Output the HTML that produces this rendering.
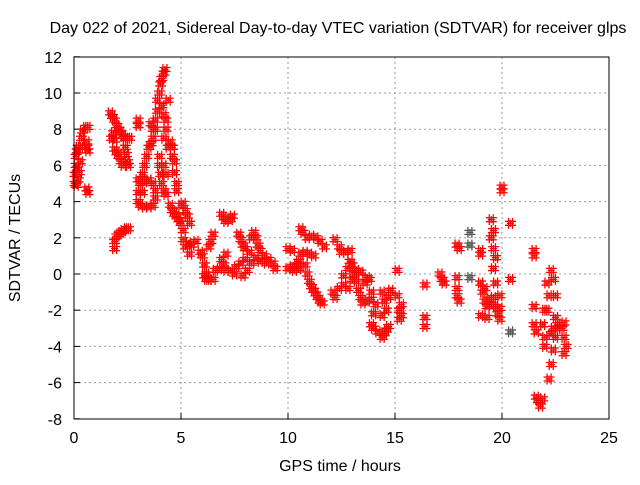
<!DOCTYPE html>
<html><head><meta charset="utf-8"><style>
body{margin:0;background:#fff}
svg text{font-family:"Liberation Sans",sans-serif;font-size:16px;fill:#000}
</style></head><body>
<svg width="640" height="480" id="c">
<rect width="640" height="480" fill="#fff"/>
<text x="338" y="33" text-anchor="middle">Day 022 of 2021, Sidereal Day-to-day VTEC variation (SDTVAR) for receiver glps</text>
<text x="340" y="471" text-anchor="middle">GPS time / hours</text>
<text transform="translate(20,238) rotate(-90)" text-anchor="middle">SDTVAR / TECUs</text>
<g id="grid"></g>
<g id="ticks"></g>
<g id="pts"></g>
<rect x="74" y="57" width="535" height="362" fill="none" stroke="#000" stroke-width="1"/>
</svg>
<script>
const xTicks=[0,5,10,15,20,25];
const yTicks=[-8,-6,-4,-2,0,2,4,6,8,10,12];
const times=[0.05,0.05,0.1,0.1,0.15,0.2,0.3,0.1,0.2,0.25,0.3,0.15,0.35,0.4,0.55,0.65,0.6,0.65,0.6,0.6,0.65,
1.7,1.8,1.9,2.0,2.1,2.2,2.3,2.4,2.5,1.75,1.85,1.9,2.4,2.45,2.5,2.55,2.2,2.1,2.0,1.9,2.3,2.6,
1.9,1.9,2.0,2.1,2.2,2.3,2.45,2.55,3.0,3.0,
3.0,3.1,3.0,3.0,3.1,3.3,3.5,3.7,3.8,3.8,3.7,3.5,3.3,3.2,3.2,3.3,3.4,3.5,3.6,3.7,3.8,3.8,3.9,3.9,4.0,4.05,4.1,4.2,4.25,
3.6,3.7,4.0,4.0,4.05,4.1,4.2,4.3,4.3,4.2,4.1,4.4,4.3,4.2,4.4,4.5,4.6,4.6,4.7,4.7,4.8,4.8,4.3,4.2,
4.5,4.6,4.7,4.8,4.9,5.0,5.1,5.2,5.3,5.4,5.0,5.1,5.1,5.2,5.35,5.5,5.4,5.7,5.9,6.0,6.1,6.2,6.3,6.5,6.3,6.4,6.5,6.6,6.8,6.9,7.0,7.1,7.3,7.6,7.8,8.0,7.1,6.2,6.1,
6.9,7.0,7.1,7.3,7.4,
7.7,7.8,7.9,8.0,8.2,8.3,8.4,8.5,8.6,8.7,8.9,9.1,9.3,9.4,8.1,8.3,8.5,8.7,9.0,7.5,7.9,
10.0,10.2,10.0,10.2,10.4,10.3,10.5,10.6,10.8,11.0,11.2,10.8,10.9,11.0,11.1,11.2,11.3,11.4,11.5,11.6,10.6,10.7,10.9,11.1,11.3,11.5,11.7,10.5,
12.2,12.4,12.5,12.7,12.9,12.1,12.2,12.4,12.6,12.8,12.6,12.8,12.9,13.0,13.1,13.2,13.3,13.4,13.5,13.6,13.7,13.8,13.9,13.7,13.2,13.4,13.0,14.0,13.9,
13.9,14.1,14.0,14.2,14.4,14.5,14.6,14.7,14.4,14.5,14.6,14.7,14.4,14.8,
15.1,15.1,15.2,15.3,15.3,15.2,16.4,16.4,16.4,17.1,17.2,17.3,
17.9,18.0,17.9,17.9,18.0,17.9,18.5,18.5,18.5,
19.0,19.0,19.0,19.1,19.2,19.3,19.4,19.5,19.6,19.7,19.8,19.9,19.5,19.6,19.5,19.6,19.7,19.6,19.7,19.9,19.2,19.3,19.0,19.9,
20.0,20.0,20.4,20.4,20.4,
21.5,21.5,21.5,21.5,21.6,21.6,21.7,21.9,21.8,21.9,22.0,22.0,22.0,22.1,22.1,22.2,22.3,22.4,22.4,22.5,22.6,22.3,22.4,22.5,22.5,22.6,22.2,22.9,22.9,23.0,22.9,22.8,22.3];
const values=[5,5.5,6,6.5,6.8,7,7,4.9,5.2,5.6,6.2,5.8,7.5,7.9,8.1,8.1,7,6.8,7.3,4.7,4.5,
8.9,8.7,8.5,8.2,8,7.8,7.6,7.5,7.5,7.5,7.8,7.4,7,6.6,6.2,6,6.2,6.5,6.7,6.9,6,7.5,
1.4,1.8,2.1,2.2,2.3,2.4,2.5,2.5,8.5,8.2,
5.2,5.0,4.5,4.0,3.8,3.7,3.7,3.8,4.2,4.6,5.0,5.2,5.1,4.5,5.5,6.0,6.5,7.0,7.2,7.5,8.0,8.5,9,9.6,10.0,10.5,10.8,11.1,11.3,
8.3,8.0,6.5,6.0,5.5,5.0,4.6,4.4,8.5,8.8,9.3,9.6,8.0,7.5,7.0,7.3,7.0,6.5,6.2,5.6,5.0,4.6,5.5,6.0,
3.8,3.5,3.3,3.2,3.0,3.8,3.9,3.5,3.2,2.8,2.8,2.4,1.9,1.5,1.7,1.6,1.1,1.8,1.2,1.0,0.5,0.0,-0.3,-0.3,1.5,1.8,2.2,0.2,0.3,0.8,0.5,0.2,0.2,0.4,0.6,0.8,1.1,-0.3,-0.1,
3.3,3.1,2.9,3.0,3.2,
2.2,1.9,1.6,1.4,1.2,2.0,2.3,2.0,1.6,1.3,1.0,0.8,0.6,0.3,0.2,0.6,0.9,0.7,0.6,0.0,-0.1,
1.4,1.3,0.3,0.4,0.5,0.2,0.7,1.1,1.2,1.1,1.0,0.5,0.0,-0.4,-0.7,-0.9,-1.1,-1.3,-1.5,-1.6,2.5,2.3,2.0,2.1,2.0,1.8,1.5,0.3,
1.9,1.5,1.2,1.2,1.3,-1.0,-1.3,-0.8,-0.6,-0.8,-0.1,0.3,0.7,0.5,0.0,-0.4,-0.9,-1.3,-1.6,-0.5,-0.2,-0.3,-1.0,-1.5,0.2,0.1,-0.3,-3.0,-2.8,
-1.4,-1.7,-2.2,-3.2,-3.5,-3.3,-3.1,-2.9,-1.0,-1.5,-2.0,-1.3,-2.3,-0.9,
0.2,-1.2,-2.0,-2.3,-1.7,-2.5,-0.6,-2.4,-2.9,0.0,-0.3,-0.5,
1.6,1.4,-0.2,-0.8,-1.5,-1.2,2.3,1.6,-0.2,
1.3,1.1,-0.5,-1.0,-1.5,-1.8,-1.4,-1.7,-1.3,-1.8,-2.2,-1.9,3.0,2.4,2.0,1.4,0.9,0.3,-0.5,-1.2,-0.8,-2.4,-2.3,-2.5,
4.6,4.8,2.8,-0.3,-3.2,
1.3,1.0,-1.8,-2.8,-3.2,-6.8,-7.0,-6.9,-7.3,-2.8,-2.0,-3.5,-4.0,-0.5,-2.0,-5.8,-5.0,-4.2,-3.0,-3.5,-3.0,0.2,-0.3,-1.2,-2.4,-2.8,-1.2,-2.7,-3.5,-4.0,-4.4,-3.0,-3.3];
const NS='http://www.w3.org/2000/svg';
const X=v=>74+v*(535/25), Y=v=>274-v*18.1;
const grid=document.getElementById('grid'),ticks=document.getElementById('ticks'),pts=document.getElementById('pts');
function mk(t,a,p){const e=document.createElementNS(NS,t);for(const k in a)e.setAttribute(k,a[k]);p.appendChild(e);return e;}
xTicks.forEach(t=>{const x=X(t);
 if(t>0&&t<25){const l=mk('line',{x1:x,x2:x,y1:57,y2:419,stroke:'#999','stroke-dasharray':'2,3'},grid);}
 const tk=mk('line',{x1:x,x2:x,y1:419,y2:413,stroke:'#000'},ticks);
 const tx=mk('text',{x:x,y:443,'text-anchor':'middle'},ticks);tx.textContent=t;});
yTicks.forEach(t=>{const y=Y(t);
 if(t>-8&&t<12){const l=mk('line',{x1:74,x2:609,y1:y,y2:y,stroke:'#999','stroke-dasharray':'2,3'},grid);}
 const tk=mk('line',{x1:74,x2:80,y1:y,y2:y,stroke:'#000'},ticks);
 const tx=mk('text',{x:62,y:y+6,'text-anchor':'end'},ticks);tx.textContent=t;});
// marker glyph: a small cluster of "+" strokes to mimic dense gnuplot sampling
function glyph(x,y){let d='';[[0,0],[-2,-2],[2,2],[-2,2],[2,-2]].forEach(o=>{const a=x+o[0],b=y+o[1];d+=`M${a-3.5},${b}h7M${a},${b-3.5}v7`;});return d;}
times.forEach((t,i)=>{const x=X(t),y=Y(values[i]);
 const c=(t===18.5||(t===20.4&&values[i]<-3))?'#555':'#f00';
 const p=mk('path',{d:glyph(x,y),stroke:c,'stroke-width':1.3,fill:'none'},pts);
 
 });
</script>
</body></html>
